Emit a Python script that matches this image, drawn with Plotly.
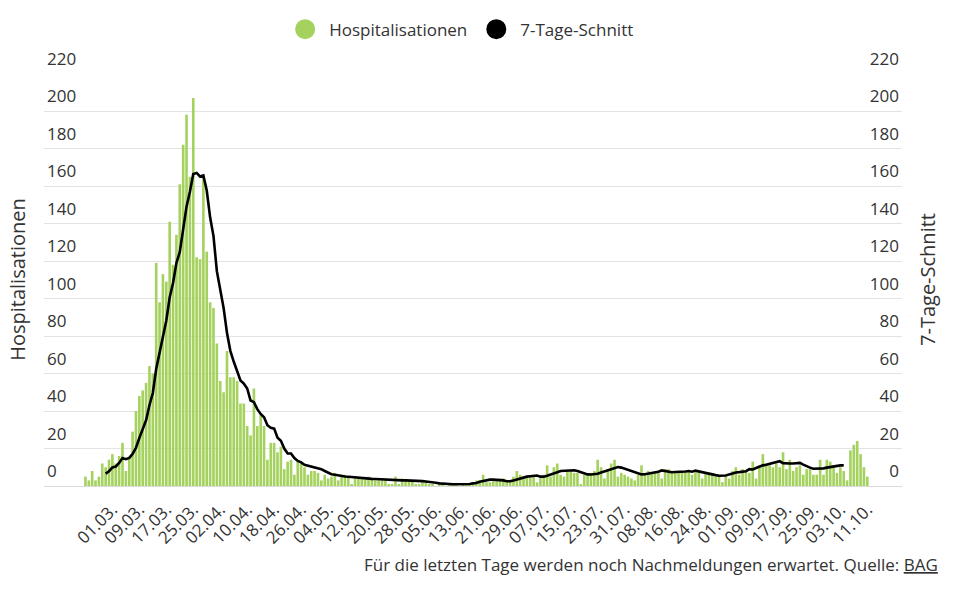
import pandas as pd
import plotly.graph_objects as go

# ---- data ----
first_day = "2020-02-22"
hosp = [5, 3, 8, 3, 5, 12, 10, 14, 17, 12, 16, 23, 8, 15, 29,
        40, 48, 51, 55, 64, 60, 119,
        98, 113, 109, 141, 118, 134, 161, 182, 198, 165, 207,
        122, 121, 165, 125, 98, 95, 76, 56, 50, 72, 58, 58, 56, 44, 44, 32, 27, 52, 32, 38, 32, 14, 23, 23, 18, 21,
        9, 13, 14, 6, 13, 12, 10, 6, 8, 8, 7,
        3, 6, 4, 5, 7, 3, 6, 6, 5, 1,
        4, 4, 4, 4, 5, 4, 3, 3, 3, 3,
        1, 1, 5, 1, 4, 3, 3, 3, 1,
        1, 3, 3, 1, 1, 0, 1, 1, 0, 1,
        1, 1, 0, 1, 1, 1,
        2, 3, 3, 6, 2, 2, 3, 3, 4, 4, 2, 3, 5, 8,
        6, 5, 5, 5, 6, 2, 5, 6, 11, 5, 10, 12, 6, 5, 8, 8, 7, 7,
        1, 6, 6, 7, 8, 14, 10, 4, 9, 12, 14, 5, 7,
        6, 5, 4, 3, 6, 11, 6, 8, 7, 8, 7, 4, 9, 9, 8, 8, 8,
        8, 8, 8, 6, 8, 8, 4, 7, 7, 7, 5, 5, 2, 6, 4, 8, 10, 6, 9,
        8, 7, 13, 4, 11, 17, 12, 11, 10, 12, 10, 18, 9, 14, 8, 10, 11, 6,
        9, 9, 6, 6, 14, 6, 14, 13, 11, 7, 10, 8, 3, 19, 22, 24, 17, 10, 5]

avg_first_day = "2020-02-28"
avg7 = [6.6, 7.9, 9.9, 10.4, 12.3, 14.9, 14.3, 15.0, 17.1, 20.4,
        25.6, 30.6, 35.1, 43.1, 49.6, 62.4, 70.7, 80.0, 88.3, 100.6,
        108.3, 118.9, 124.9, 136.9, 149.0, 157.0, 166.4, 167.0, 165.1, 165.7,
        157.6, 143.3, 133.3, 114.6, 105.1, 95.0, 81.7, 72.1, 66.4, 60.9,
        56.3, 54.6, 52.0, 45.6, 44.7, 41.0, 38.4, 36.7, 32.4, 31.1,
        30.6, 25.7, 24.1, 20.0, 17.3, 17.3, 14.9, 13.4, 12.6, 11.3, 10.9,
        10.4, 9.9, 9.4, 9.0, 8.0, 7.0, 6.3, 6.0, 5.6, 5.3,
        5.1, 4.9, 4.7, 4.5, 4.3, 4.1, 4.0, 3.9, 3.8, 3.7,
        3.6, 3.5, 3.3, 3.1, 3.0, 3.0, 3.0, 3.0, 3.0,
        3.0, 3.0, 2.8, 2.7, 2.6, 2.4, 2.3, 2.0, 1.7, 1.4,
        1.2, 1.0, 0.9, 0.9, 0.9, 0.9, 0.9, 1.0, 1.1,
        1.4, 1.6, 2.3, 2.8, 3.1, 3.4, 3.4, 3.4, 3.4, 3.0,
        2.5, 2.5, 3.0, 3.6, 4.2, 4.7, 5.0, 5.2, 5.5, 5.6,
        5.0, 5.0, 5.5, 6.0, 6.5, 7.3, 8.0, 8.1, 8.3, 8.5,
        8.4, 8.0, 7.3, 6.6, 6.2, 6.1, 6.1, 6.5, 7.2, 7.8,
        8.6, 9.3, 9.8, 10.1, 9.8, 9.2, 8.5, 7.9, 7.3, 6.8,
        6.2, 6.3, 6.6, 7.0, 7.3, 7.6,
        8.3, 8.0, 7.4, 7.3, 7.5, 7.5, 7.5, 7.7, 8.0, 7.6,
        8.2, 7.8, 7.2, 6.6, 6.5, 6.2, 5.8, 5.5, 5.4,
        5.6, 6.2, 6.8, 7.2, 7.4, 7.6, 7.9, 9.0, 8.8, 9.6,
        10.4, 11.0, 11.3, 11.7, 12.0, 12.4, 13.2, 12.2, 12.3, 12.0,
        12.0, 12.1, 12.3, 11.4, 10.4, 9.8, 9.2, 9.2, 9.2, 9.4,
        9.8, 10.2, 10.6, 10.8, 11.0, 11.0]

tick_dates = ["2020-03-01", "2020-03-09", "2020-03-17", "2020-03-25", "2020-04-02",
              "2020-04-10", "2020-04-18", "2020-04-26", "2020-05-04", "2020-05-12",
              "2020-05-20", "2020-05-28", "2020-06-05", "2020-06-13", "2020-06-21",
              "2020-06-29", "2020-07-07", "2020-07-15", "2020-07-23", "2020-07-31",
              "2020-08-08", "2020-08-16", "2020-08-24", "2020-09-01", "2020-09-09",
              "2020-09-17", "2020-09-25", "2020-10-03", "2020-10-11"]
y_ticks = list(range(0, 221, 20))

series_names = ["Hospitalisationen", "7-Tage-Schnitt"]
caption = "Für die letzten Tage werden noch Nachmeldungen erwartet. Quelle: <u>BAG</u>"

# ---- styles ----
GREEN = "#a5d25f"
TEXT = "#333333"
FONT = "Open Sans"

hosp_dates = pd.date_range(first_day, periods=len(hosp), freq="D")
avg_dates = pd.date_range(avg_first_day, periods=len(avg7), freq="D")

fig = go.Figure()
fig.add_trace(go.Bar(x=hosp_dates, y=hosp, marker=dict(color=GREEN, line=dict(width=0)),
                     name=series_names[0], showlegend=False))
fig.add_trace(go.Scatter(x=avg_dates, y=avg7, mode="lines", yaxis="y2",
                         line=dict(color="black", width=2.6), name=series_names[1],
                         showlegend=False))
# legend entries (round symbols)
fig.add_trace(go.Scatter(x=[None], y=[None], mode="markers", name=series_names[0],
                         marker=dict(symbol="circle", size=16, color=GREEN,
                                     line=dict(color=GREEN, width=4))))
fig.add_trace(go.Scatter(x=[None], y=[None], mode="markers", name=series_names[1],
                         marker=dict(symbol="circle", size=16, color="black",
                                     line=dict(color="black", width=4))))

x_range = [pd.Timestamp(first_day) - pd.Timedelta(hours=295),
           pd.Timestamp(first_day) + pd.Timedelta(hours=5815)]
y_range = [0, 220.3]

fig.update_layout(
    width=960, height=589, autosize=False,
    margin=dict(l=44, r=58, t=66, b=103, pad=0),
    paper_bgcolor="white", plot_bgcolor="white",
    font=dict(family=FONT, color=TEXT, size=16),
    bargap=0.22,
    showlegend=True,
    legend=dict(orientation="h", x=0.485, xanchor="center", y=1.105, yanchor="middle",
                font=dict(family=FONT, size=17, color=TEXT), itemsizing="trace",
                itemwidth=38, bgcolor="rgba(0,0,0,0)"),
    xaxis=dict(type="date", range=x_range, tickmode="array", tickvals=tick_dates,
               tickformat="%d.%m.", tickangle=-45, showgrid=False, zeroline=False,
               showline=True, linecolor="#d9d9d9", linewidth=1, ticks="",
               ticklabelstandoff=6,
               tickfont=dict(family=FONT, size=17, color=TEXT)),
    yaxis=dict(range=y_range, tickmode="array", tickvals=y_ticks, showgrid=True,
               gridcolor="#e3e3e3", gridwidth=1, zeroline=False, showline=False,
               ticklabelposition="inside top", ticklabeloverflow="allow",
               ticklabelshift=-3, ticks="",
               tickfont=dict(family=FONT, size=17, color=TEXT),
               title=dict(text=series_names[0], standoff=16,
                          font=dict(family=FONT, size=20, color=TEXT))),
    yaxis2=dict(range=y_range, tickmode="array", tickvals=y_ticks, overlaying="y",
                side="right", showgrid=False, zeroline=False, showline=False,
                ticklabelposition="inside top", ticklabeloverflow="allow",
                ticklabelshift=-3, ticks="",
                tickfont=dict(family=FONT, size=17, color=TEXT),
                title=dict(text=series_names[1], standoff=22,
                           font=dict(family=FONT, size=20, color=TEXT))),
    annotations=[dict(text=caption, xref="paper", yref="paper", x=1.0443, y=-0.1905,
                      xanchor="right", yanchor="middle", showarrow=False,
                      font=dict(family=FONT, size=17, color=TEXT))],
)

fig.write_html("out.html")
